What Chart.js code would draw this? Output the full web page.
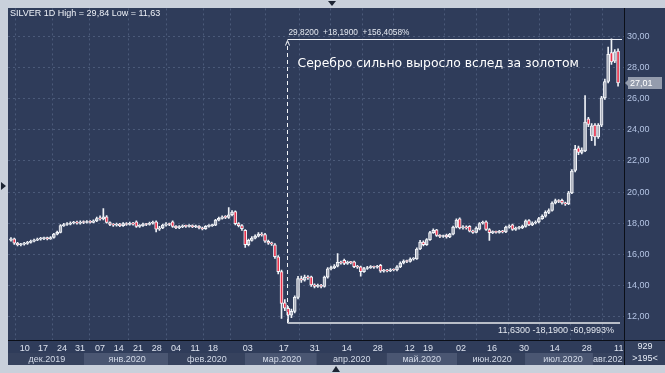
<!DOCTYPE html>
<html>
<head>
<meta charset="utf-8">
<script src="https://cdn.jsdelivr.net/npm/chart.js@4"></script>
<style>
  html, body { margin: 0; padding: 0; background: #c9d0db; }
  canvas { display: block; }
</style>
</head>
<body>
<canvas id="myChart" width="665" height="373"></canvas>
<script>
// SILVER daily candles, Dec 2019 - Aug 2020
const opens = [
  16.92, 17.00, 16.72, 16.62, 16.66, 16.70, 16.78, 16.85, 16.92, 16.98,
  17.02, 17.08, 17.00, 17.10, 17.30, 17.42, 17.85, 17.92, 17.95, 18.02,
  18.08, 18.00, 18.10, 18.05, 18.12, 18.06, 18.15, 18.30, 18.28, 18.42,
  18.05, 17.92, 17.88, 17.95, 17.85, 17.98, 17.92, 18.00, 18.10, 17.80,
  17.85, 17.95, 17.92, 18.00, 18.10, 17.62, 17.70, 17.88, 17.95, 18.10,
  17.80, 17.72, 17.78, 17.82, 17.80, 17.85, 17.78, 17.82, 17.70, 17.65,
  17.80, 17.85, 17.88, 18.20, 18.32, 18.40, 18.38, 18.55, 18.75, 17.98,
  17.85, 17.55, 16.62, 16.90, 17.05, 17.18, 17.30, 17.28, 16.85, 16.72,
  16.62, 15.85, 14.90, 12.90, 12.55, 12.10, 12.35, 13.25, 14.45, 14.35,
  14.55, 14.56, 14.05, 13.95, 14.00, 13.95, 14.55, 15.08, 15.15, 15.25,
  15.50, 15.62, 15.42, 15.50, 15.52, 15.22, 15.20, 14.90, 15.10, 15.15,
  15.20, 15.18, 15.30, 14.92, 14.98, 14.95, 15.02, 15.00, 15.20, 15.45,
  15.58, 15.55, 15.70, 15.72, 16.35, 16.80, 16.62, 16.95, 17.40, 17.58,
  17.22, 17.15, 17.25, 17.12, 17.30, 17.75, 18.28, 17.70, 17.78, 17.80,
  17.50, 17.42, 17.62, 18.00, 18.10, 17.60, 17.40, 17.45, 17.42, 17.48,
  17.45, 17.75, 17.90, 17.60, 17.68, 17.72, 17.80, 18.18, 17.90, 18.02,
  18.08, 18.30, 18.45, 18.70, 18.82, 19.30, 19.45, 19.48, 19.30, 19.25,
  19.95, 21.40, 22.85, 22.55, 22.65, 24.70, 23.60, 24.30, 23.55, 24.30,
  26.05, 27.10, 28.95, 28.40, 29.05
];
const highs = [
  17.08, 17.05, 16.78, 16.72, 16.78, 16.85, 16.92, 16.98, 17.05, 17.10,
  17.12, 17.12, 17.15, 17.36, 17.50, 17.92, 18.00, 18.05, 18.10, 18.12,
  18.14, 18.15, 18.16, 18.18, 18.18, 18.22, 18.40, 18.48, 18.95, 18.50,
  18.10, 17.98, 18.02, 18.00, 18.05, 18.04, 18.08, 18.06, 18.15, 17.92,
  18.02, 18.00, 18.08, 18.14, 18.15, 17.80, 17.95, 18.05, 18.02, 18.15,
  17.86, 17.85, 17.90, 17.88, 17.92, 17.90, 17.88, 17.86, 17.76, 17.86,
  17.92, 17.95, 18.26, 18.40, 18.48, 18.50, 19.00, 18.82, 18.80, 18.04,
  17.92, 17.60, 16.98, 17.15, 17.26, 17.40, 17.40, 17.35, 16.92, 16.80,
  16.70, 15.92, 15.00, 13.10, 12.65, 12.50, 13.35, 14.60, 14.62, 14.68,
  14.65, 14.62, 14.12, 14.10, 14.08, 14.62, 15.15, 15.25, 15.35, 16.06,
  15.58, 15.70, 15.58, 15.56, 15.58, 15.30, 15.25, 15.18, 15.24, 15.28,
  15.26, 15.30, 15.36, 15.05, 15.04, 15.10, 15.08, 15.28, 15.52, 15.66,
  15.64, 15.78, 15.80, 16.42, 16.90, 16.88, 17.02, 17.48, 17.65, 17.62,
  17.28, 17.25, 17.30, 17.36, 17.82, 18.28, 18.35, 17.86, 17.84, 17.86,
  17.56, 17.78, 18.05, 18.14, 18.16, 17.66, 17.52, 17.50, 17.55, 17.54,
  17.82, 17.90, 17.95, 17.76, 17.80, 17.88, 18.22, 18.24, 18.10, 18.16,
  18.38, 18.55, 18.80, 18.92, 19.38, 19.55, 19.52, 19.55, 19.36, 20.05,
  21.45, 23.00, 22.95, 22.85, 26.20, 24.80, 24.40, 24.40, 24.40, 26.15,
  27.25, 29.30, 29.84, 29.15, 29.20
];
const lows = [
  16.85, 16.65, 16.55, 16.55, 16.60, 16.65, 16.72, 16.80, 16.88, 16.92,
  16.95, 16.94, 16.96, 17.05, 17.25, 17.38, 17.80, 17.86, 17.90, 17.96,
  17.94, 17.95, 17.98, 18.00, 18.00, 18.02, 18.10, 18.20, 18.22, 18.00,
  17.85, 17.80, 17.82, 17.78, 17.80, 17.86, 17.88, 17.88, 17.74, 17.74,
  17.80, 17.85, 17.88, 17.95, 17.45, 17.55, 17.65, 17.82, 17.85, 17.74,
  17.65, 17.66, 17.72, 17.74, 17.75, 17.72, 17.72, 17.64, 17.58, 17.60,
  17.75, 17.80, 17.84, 18.15, 18.26, 18.30, 18.32, 18.48, 17.90, 17.76,
  17.55, 16.45, 16.55, 16.85, 17.00, 17.12, 17.18, 16.78, 16.65, 16.58,
  15.75, 14.75, 11.90, 12.40, 11.63, 11.95, 12.25, 13.15, 14.20, 14.28,
  14.40, 13.95, 13.85, 13.88, 13.86, 13.90, 14.48, 15.00, 15.08, 15.20,
  15.38, 15.35, 15.36, 15.40, 15.15, 15.10, 14.60, 14.85, 15.04, 15.10,
  15.10, 15.12, 14.85, 14.86, 14.88, 14.90, 14.94, 14.95, 15.15, 15.40,
  15.48, 15.50, 15.64, 15.68, 16.30, 16.55, 16.58, 16.90, 17.35, 17.15,
  17.08, 17.10, 17.05, 17.08, 17.25, 17.70, 17.64, 17.62, 17.62, 17.44,
  17.35, 17.38, 17.58, 17.95, 17.55, 16.90, 17.34, 17.36, 17.36, 17.38,
  17.40, 17.68, 17.54, 17.54, 17.62, 17.66, 17.75, 17.84, 17.85, 17.96,
  18.02, 18.25, 18.40, 18.62, 18.78, 19.24, 19.32, 19.22, 19.15, 19.20,
  19.90, 21.30, 22.40, 22.45, 22.60, 24.20, 23.30, 23.00, 23.45, 24.20,
  25.95, 27.00, 28.20, 28.30, 26.80
];
const closes = [
  17.00, 16.72, 16.62, 16.66, 16.70, 16.78, 16.85, 16.92, 16.98, 17.02,
  17.05, 17.00, 17.08, 17.30, 17.42, 17.85, 17.92, 17.95, 18.02, 18.05,
  18.00, 18.08, 18.05, 18.10, 18.06, 18.15, 18.30, 18.28, 18.42, 18.05,
  17.92, 17.88, 17.95, 17.85, 17.98, 17.92, 18.00, 17.95, 17.80, 17.85,
  17.95, 17.92, 18.00, 18.05, 17.62, 17.70, 17.88, 17.95, 17.92, 17.80,
  17.72, 17.78, 17.82, 17.80, 17.85, 17.78, 17.82, 17.70, 17.65, 17.80,
  17.85, 17.88, 18.20, 18.32, 18.40, 18.38, 18.55, 18.72, 17.98, 17.85,
  17.65, 16.62, 16.90, 17.05, 17.18, 17.30, 17.25, 16.85, 16.72, 16.68,
  15.85, 14.90, 12.85, 12.55, 12.10, 12.35, 13.25, 14.45, 14.35, 14.55,
  14.50, 14.05, 13.95, 14.02, 13.95, 14.55, 15.08, 15.15, 15.25, 15.50,
  15.45, 15.42, 15.50, 15.48, 15.22, 15.18, 14.90, 15.10, 15.15, 15.20,
  15.18, 15.22, 14.92, 14.98, 14.95, 15.02, 15.00, 15.20, 15.45, 15.58,
  15.55, 15.70, 15.72, 16.35, 16.80, 16.62, 16.95, 17.40, 17.55, 17.22,
  17.15, 17.18, 17.12, 17.30, 17.75, 18.20, 17.70, 17.78, 17.70, 17.50,
  17.42, 17.70, 17.98, 18.05, 17.60, 17.40, 17.45, 17.42, 17.48, 17.45,
  17.75, 17.80, 17.60, 17.68, 17.72, 17.80, 18.15, 17.90, 18.02, 18.08,
  18.30, 18.45, 18.70, 18.82, 19.30, 19.45, 19.40, 19.30, 19.25, 19.95,
  21.35, 22.75, 22.55, 22.70, 24.50, 24.35, 24.25, 23.55, 24.30, 26.05,
  27.10, 28.85, 28.35, 29.00, 27.01
];

// time axis: day ticks (position in bar numbers) and month bands
const dayTicks  = [4.2, 9.7, 15.5, 20.9, 27.0, 32.7, 38.5, 44.2, 50.0, 55.8, 61.2, 71.8,
                   82.7, 92.1, 101.8, 111.2, 120.9, 126.4, 136.4, 145.8, 155.5, 164.8, 174.5, 184.2];
const dayLabels = ['10', '17', '24', '31', '07', '14', '21', '28', '04', '11', '18', '03',
                   '17', '31', '14', '28', '12', '19', '02', '16', '30', '14', '28', '11'];
const dayGridLines = [1, 0, 1, 0, 1, 0, 1, 0, 1, 0, 1, 1, 1, 1, 1, 1, 1, 0, 1, 1, 1, 1, 1, 1];
const monthStarts  = [-0.9, 22.1, 47.6, 70.9, 92.7, 113.9, 135.2, 155.8, 176.4];
const monthCenters = [10.9, 35.2, 59.4, 82.1, 103.3, 124.5, 145.8, 167.3, 180.9];
const monthLabels  = ['дек.2019', 'янв.2020', 'фев.2020', 'мар.2020', 'апр.2020',
                      'май.2020', 'июн.2020', 'июл.2020', 'авг.202'];

// price axis
const priceTicks = [12, 14, 16, 18, 20, 22, 24, 26, 28, 30];

// measuring tool drawn on the chart
const rulerHigh = 29.82;
const rulerLow = 11.63;
const noteText = 'Серебро сильно выросло вслед за золотом';
const cornerTop = '929';
const cornerBottom = '>195<';

const FONT = "'Liberation Sans', Arial, sans-serif";
const X_MIN = -0.9, X_MAX = 185.8;

function fmt(v, d) {
  return v.toFixed(d).replace('.', ',');
}

const idx = closes.map((c, i) => i);
const lowIndex = lows.indexOf(Math.min(...lows));

// backgrounds, axis bands and little arrows
const framePlugin = {
  id: 'frame',
  beforeDraw(chart) {
    const ctx = chart.ctx;
    const xs = chart.scales.x;
    const area = chart.chartArea;
    ctx.save();
    ctx.fillStyle = '#c9d0db';
    ctx.fillRect(0, 0, chart.width, chart.height);
    ctx.fillStyle = '#2f3c5a';
    ctx.fillRect(8, 8, chart.width - 8, chart.height - 16);
    // month bands
    for (let k = 0; k < monthStarts.length; k++) {
      const a = xs.getPixelForValue(monthStarts[k]);
      const b = k + 1 < monthStarts.length ? xs.getPixelForValue(monthStarts[k + 1]) : area.right;
      ctx.fillStyle = k % 2 ? '#4a5672' : '#36425e';
      ctx.fillRect(a, area.bottom + 13, b - a, 12);
    }
    ctx.fillStyle = '#34415e';
    ctx.fillRect(area.right + 1, area.bottom + 1, chart.width - area.right, 24);
    ctx.restore();
  },
  afterDraw(chart) {
    const ctx = chart.ctx;
    const area = chart.chartArea;
    const ys = chart.scales.y;
    ctx.save();
    // separators
    ctx.strokeStyle = '#0b0f18';
    ctx.lineWidth = 1;
    ctx.beginPath();
    ctx.moveTo(area.right + 0.5, area.bottom);
    ctx.lineTo(area.right + 0.5, area.bottom + 25);
    ctx.moveTo(area.right, area.bottom + 0.5);
    ctx.lineTo(chart.width, area.bottom + 0.5);
    ctx.stroke();
    // corner box text
    ctx.fillStyle = '#e6ebf4';
    ctx.font = '9px ' + FONT;
    ctx.textAlign = 'center';
    ctx.textBaseline = 'middle';
    ctx.fillText(cornerTop, 645, area.bottom + 7);
    ctx.fillText(cornerBottom, 645, area.bottom + 19);
    // last price tag
    const last = closes[closes.length - 1];
    const py = Math.round(ys.getPixelForValue(last));
    ctx.fillStyle = '#949cad';
    ctx.fillRect(area.right + 4, py - 6, 34, 12);
    ctx.beginPath();
    ctx.moveTo(area.right + 1, py);
    ctx.lineTo(area.right + 4, py - 3);
    ctx.lineTo(area.right + 4, py + 3);
    ctx.fill();
    ctx.fillStyle = '#ffffff';
    ctx.textAlign = 'left';
    ctx.fillText(fmt(last, 2), area.right + 6, py + 0.5);
    // title
    ctx.font = '9px ' + FONT;
    ctx.fillStyle = '#eef1f7';
    ctx.fillText('SILVER 1D High = ' + fmt(Math.max(...highs), 2) + ' Low = ' + fmt(Math.min(...lows), 2), 10, 14);
    // small navigation arrows in the frame
    ctx.fillStyle = '#1c2433';
    ctx.beginPath();
    ctx.moveTo(328, 1); ctx.lineTo(336, 1); ctx.lineTo(332, 6); ctx.fill();
    ctx.beginPath();
    ctx.moveTo(1, 182); ctx.lineTo(1, 190); ctx.lineTo(6, 186); ctx.fill();
    ctx.beginPath();
    ctx.moveTo(332, 372); ctx.lineTo(340, 372); ctx.lineTo(336, 366); ctx.fill();
    ctx.restore();
  }
};

// the high/low measuring lines and the note
const rulerPlugin = {
  id: 'ruler',
  afterDatasetsDraw(chart) {
    const ctx = chart.ctx;
    const xs = chart.scales.x, ys = chart.scales.y;
    const x0 = Math.round(xs.getPixelForValue(lowIndex)) - 0.5;
    const yHi = Math.round(ys.getPixelForValue(rulerHigh)) + 0.5;
    const yLo = Math.round(ys.getPixelForValue(rulerLow));
    const xR = chart.chartArea.right - 2;
    const diff = rulerHigh - rulerLow;
    ctx.save();
    ctx.strokeStyle = '#b9bec8';
    ctx.lineWidth = 2;
    ctx.beginPath();
    ctx.moveTo(x0, yLo);
    ctx.lineTo(xR - 2, yLo);
    ctx.stroke();
    ctx.strokeStyle = '#f2f4f8';
    ctx.lineWidth = 1;
    ctx.beginPath();
    ctx.moveTo(x0, yHi);
    ctx.lineTo(xR, yHi);
    ctx.stroke();
    ctx.setLineDash([4, 3]);
    ctx.beginPath();
    ctx.moveTo(x0, yLo);
    ctx.lineTo(x0, yHi + 3);
    ctx.stroke();
    ctx.setLineDash([]);
    ctx.beginPath();
    ctx.moveTo(x0 - 2, yHi + 6);
    ctx.lineTo(x0, yHi + 1);
    ctx.lineTo(x0 + 2, yHi + 6);
    ctx.stroke();

    ctx.fillStyle = '#e4e8f0';
    ctx.textBaseline = 'middle';
    ctx.font = '8.3px ' + FONT;
    ctx.textAlign = 'left';
    ctx.fillText(fmt(rulerHigh, 4) + '  +' + fmt(diff, 4) + '  +' + fmt(diff / rulerLow * 100, 4) + '%', x0 + 1, yHi - 7);
    ctx.font = '9px ' + FONT;
    ctx.textAlign = 'right';
    ctx.fillText(fmt(rulerLow, 4) + ' -' + fmt(diff, 4) + ' -' + fmt(diff / rulerHigh * 100, 4) + '%', xR - 8, yLo + 8);
    ctx.font = "12.4px 'DejaVu Sans', sans-serif";
    ctx.textAlign = 'left';
    ctx.fillStyle = '#ffffff';
    ctx.fillText(noteText, x0 + 10, yHi + 24);
    ctx.restore();
  }
};

var ctx = document.getElementById('myChart').getContext('2d');
var chart = new Chart(ctx, {
  type: 'bar',
  data: {
    datasets: [{
      label: 'bodies',
      order: 0,
      grouped: false,
      data: idx.map(i => ({ x: i, y: [opens[i], closes[i]] })),
      backgroundColor: c => closes[c.dataIndex] >= opens[c.dataIndex] ? '#a9aebb' : '#e8324c',
      borderColor: '#f4f6fa',
      borderWidth: 1,
      borderSkipped: false,
      barThickness: 3,
      minBarLength: 1
    }, {
      label: 'wicks',
      order: 1,
      grouped: false,
      data: idx.map(i => ({ x: i, y: [lows[i], highs[i]] })),
      backgroundColor: '#eef1f6',
      barThickness: 1
    }]
  },
  options: {
    responsive: false,
    animation: false,
    devicePixelRatio: 1,
    layout: { padding: { left: 8, top: 8, right: 0, bottom: 8 } },
    plugins: { legend: { display: false }, tooltip: { enabled: false } },
    scales: {
      x: {
        type: 'linear', min: X_MIN, max: X_MAX, offset: false, weight: 0,
        afterBuildTicks: s => { s.ticks = dayTicks.map(v => ({ value: v })); },
        afterFit: s => { s.height = 13; },
        ticks: {
          autoSkip: false, maxRotation: 0, padding: 3, color: '#dde3ef',
          font: { size: 9, family: FONT },
          callback: (v, i) => dayLabels[i]
        },
        grid: {
          drawTicks: false,
          color: c => dayGridLines[c.index] ? '#4b5a79' : 'rgba(0,0,0,0)'
        },
        border: { display: true, color: '#0b0f18', width: 1, dash: [2, 3] }
      },
      months: {
        type: 'linear', position: 'bottom', min: X_MIN, max: X_MAX, offset: false, weight: 1,
        afterBuildTicks: s => { s.ticks = monthCenters.map(v => ({ value: v })); },
        afterFit: s => { s.height = 12; },
        ticks: {
          autoSkip: false, maxRotation: 0, padding: 1, color: '#d3dae8',
          font: { size: 9, family: FONT },
          callback: (v, i) => monthLabels[i]
        },
        grid: { display: false, drawTicks: false },
        border: { display: false }
      },
      y: {
        position: 'right', min: 10.51, max: 31.79,
        afterBuildTicks: s => { s.ticks = priceTicks.map(v => ({ value: v })); },
        afterFit: s => { s.width = 41; },
        ticks: {
          padding: 3, color: '#b4c4e4',
          font: { size: 9, family: FONT },
          callback: v => fmt(v, 2)
        },
        grid: { drawTicks: false, color: '#4b5a79' },
        border: { display: true, color: '#0b0f18', width: 1, dash: [2, 3] }
      }
    }
  },
  plugins: [framePlugin, rulerPlugin]
});
</script>
</body>
</html>
